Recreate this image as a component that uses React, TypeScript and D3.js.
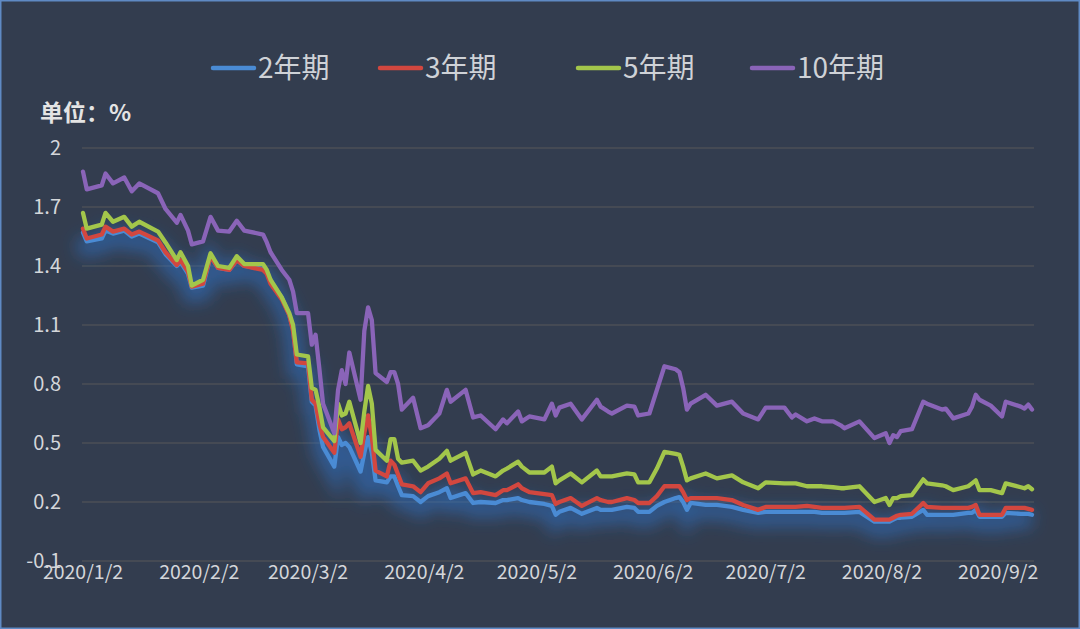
import React from "react";
import * as d3 from "d3";

// dates (2020, MM-DD) at the points
const dates = [
  "01-02","01-03","01-07","01-08","01-10","01-13","01-15","01-17","01-22","01-24",
  "01-27","01-28","01-30","01-31","02-03","02-05","02-07","02-10","02-12","02-14",
  "02-19","02-20","02-21","02-24","02-26","02-27","02-28","03-02","03-03","03-04",
  "03-05","03-06","03-09","03-10","03-11","03-12","03-13","03-16","03-17","03-18",
  "03-19","03-20","03-23","03-24","03-25","03-26","03-27","03-30","04-01","04-03",
  "04-06","04-08","04-09","04-13","04-15","04-17","04-21","04-23","04-24","04-27",
  "04-28","04-30","05-04","05-06","05-07","05-08","05-11","05-14","05-18","05-19",
  "05-21","05-22","05-26","05-28","05-29","06-01","06-03","06-05","06-08","06-09",
  "06-10","06-11","06-12","06-16","06-19","06-23","06-26","06-30","07-02","07-07",
  "07-09","07-10","07-13","07-15","07-17","07-20","07-22","07-23","07-27","07-31",
  "08-03","08-04","08-05","08-06","08-07","08-10","08-13","08-14","08-18","08-19",
  "08-21","08-25","08-26","08-27","08-28","08-31","09-03","09-04","09-08","09-09",
  "09-10","09-11",
];

const y2 = [
  1.57,1.525,1.54,1.58,1.565,1.58,1.55,1.565,1.52,1.46,
  1.40,1.42,1.36,1.29,1.30,1.45,1.39,1.38,1.43,1.40,
  1.385,1.37,1.32,1.24,1.15,1.08,0.90,0.89,0.71,0.69,
  0.57,0.48,0.38,0.53,0.49,0.50,0.48,0.355,0.45,0.53,
  0.45,0.31,0.30,0.33,0.33,0.28,0.235,0.23,0.20,0.23,
  0.25,0.27,0.22,0.245,0.195,0.20,0.195,0.21,0.21,0.22,
  0.21,0.20,0.19,0.18,0.135,0.15,0.17,0.14,0.17,0.16,
  0.16,0.16,0.175,0.17,0.15,0.15,0.18,0.20,0.22,0.225,
  0.20,0.16,0.195,0.185,0.185,0.175,0.16,0.145,0.15,0.15,
  0.15,0.15,0.15,0.15,0.145,0.145,0.145,0.145,0.15,0.10,
  0.10,0.10,0.11,0.12,0.12,0.125,0.16,0.135,0.135,0.135,
  0.135,0.145,0.145,0.16,0.125,0.125,0.125,0.145,0.14,0.14,
  0.14,0.135,
];

const y3 = [
  1.59,1.54,1.56,1.60,1.575,1.59,1.56,1.575,1.53,1.47,
  1.405,1.43,1.37,1.295,1.31,1.45,1.39,1.38,1.43,1.40,
  1.38,1.36,1.31,1.23,1.15,1.07,0.91,0.905,0.72,0.70,
  0.60,0.53,0.45,0.62,0.57,0.58,0.60,0.43,0.55,0.64,
  0.53,0.36,0.33,0.41,0.39,0.34,0.29,0.28,0.25,0.295,
  0.32,0.345,0.295,0.32,0.245,0.25,0.235,0.26,0.26,0.29,
  0.27,0.25,0.24,0.235,0.19,0.20,0.22,0.18,0.22,0.21,
  0.20,0.20,0.22,0.21,0.195,0.195,0.23,0.28,0.28,0.28,
  0.25,0.21,0.22,0.22,0.22,0.21,0.185,0.16,0.175,0.175,
  0.175,0.175,0.18,0.175,0.17,0.17,0.17,0.17,0.175,0.11,
  0.11,0.11,0.12,0.13,0.135,0.14,0.195,0.175,0.17,0.17,
  0.17,0.17,0.175,0.185,0.135,0.135,0.135,0.17,0.17,0.17,
  0.165,0.16,
];

const y5 = [
  1.67,1.59,1.61,1.67,1.625,1.65,1.60,1.625,1.575,1.52,
  1.43,1.47,1.40,1.30,1.33,1.465,1.40,1.39,1.45,1.41,
  1.41,1.38,1.33,1.24,1.16,1.10,0.95,0.94,0.78,0.77,
  0.685,0.58,0.51,0.70,0.64,0.65,0.71,0.50,0.66,0.79,
  0.70,0.465,0.41,0.52,0.52,0.42,0.40,0.41,0.36,0.38,
  0.42,0.46,0.41,0.45,0.34,0.36,0.33,0.36,0.37,0.405,
  0.38,0.35,0.35,0.38,0.295,0.31,0.345,0.30,0.36,0.33,
  0.33,0.33,0.345,0.34,0.30,0.30,0.37,0.455,0.445,0.44,
  0.38,0.31,0.32,0.345,0.32,0.335,0.30,0.27,0.30,0.295,
  0.295,0.295,0.28,0.28,0.28,0.275,0.27,0.27,0.28,0.20,
  0.22,0.185,0.22,0.22,0.23,0.235,0.315,0.295,0.285,0.28,
  0.26,0.28,0.295,0.31,0.26,0.26,0.245,0.295,0.275,0.27,
  0.28,0.265,
];

const y10 = [
  1.88,1.79,1.81,1.87,1.82,1.85,1.78,1.82,1.77,1.69,
  1.62,1.66,1.58,1.51,1.525,1.65,1.58,1.575,1.63,1.58,
  1.56,1.52,1.47,1.38,1.33,1.27,1.16,1.16,1.00,1.05,
  0.88,0.70,0.55,0.77,0.87,0.80,0.96,0.72,1.07,1.19,
  1.125,0.855,0.81,0.86,0.86,0.80,0.67,0.73,0.575,0.59,
  0.65,0.77,0.71,0.77,0.63,0.64,0.57,0.62,0.60,0.66,
  0.61,0.635,0.62,0.70,0.64,0.68,0.70,0.62,0.72,0.685,
  0.66,0.65,0.69,0.685,0.64,0.65,0.77,0.89,0.875,0.86,
  0.78,0.67,0.70,0.745,0.69,0.71,0.65,0.62,0.68,0.68,
  0.63,0.645,0.61,0.625,0.61,0.61,0.59,0.575,0.61,0.525,
  0.55,0.50,0.54,0.53,0.56,0.57,0.71,0.70,0.67,0.675,
  0.625,0.65,0.685,0.745,0.72,0.69,0.635,0.71,0.685,0.675,
  0.695,0.67,
];

const seriesNames = ["2年期", "3年期", "5年期", "10年期"];
const seriesColors = ["#4a8bd4", "#d2473f", "#a3c64b", "#8a64b8"];
const seriesValues = [y2, y3, y5, y10];

const yTicks = [-0.1, 0.2, 0.5, 0.8, 1.1, 1.4, 1.7, 2];
const yTickLabels = ["-0.1", "0.2", "0.5", "0.8", "1.1", "1.4", "1.7", "2"];
const xTickDates = ["2020-01-02","2020-02-02","2020-03-02","2020-04-02","2020-05-02","2020-06-02","2020-07-02","2020-08-02","2020-09-02"];

const W = 1080;
const H = 629;
const FONT = "'Noto Sans CJK SC', 'Noto Sans', sans-serif";

export default function App() {
  const parse = d3.timeParse("%Y-%m-%d");
  const pts = dates.map((d) => parse(`2020-${d}`) as Date);

  const x = d3.scaleTime()
    .domain([pts[0], pts[pts.length - 1]])
    .range([83, 1032]);
  const y = d3.scaleLinear().domain([-0.1, 2]).range([561, 148]);

  const fmt = d3.timeFormat("%Y/%-m/%-d");

  const lineGen = d3.line<number>()
    .x((_, i) => x(pts[i]))
    .y((v) => y(v));

  const legendX = [213, 380, 578, 752];

  return (
    <div style={{ position: "absolute", left: 0, top: 0 }}>
      <svg width={W} height={H} style={{ display: "block" }}>
        <defs>
          <filter id="glow" x="-10%" y="-30%" width="120%" height="160%">
            <feGaussianBlur stdDeviation="8" />
          </filter>
        </defs>
        <rect x={0} y={0} width={W} height={H} fill="#333d4f" />
        <rect x={0.75} y={0.75} width={W - 1.5} height={H - 1.5} fill="none" stroke="#5f8ac4" strokeWidth={1.5} />

        {/* legend */}
        {seriesNames.map((name, i) => (
          <g key={name}>
            <line x1={legendX[i]} x2={legendX[i] + 41} y1={68} y2={68}
              stroke={seriesColors[i]} strokeWidth={4.5} strokeLinecap="round" />
            <text x={legendX[i] + 45} y={68} dy="0.35em" fill="#cfd2d7"
              fontSize={28} fontFamily={FONT}>{name}</text>
          </g>
        ))}

        <text x={40} y={113} dy="0.35em" fill="#e4e4e4" fontSize={23} fontWeight="bold" fontFamily={FONT}>单位：%</text>

        {/* gridlines */}
        {yTicks.map((t) => (
          <line key={t} x1={82} x2={1034} y1={y(t)} y2={y(t)} stroke="#58585a" strokeWidth={1.2} />
        ))}

        {/* y tick labels */}
        {yTicks.map((t, i) => (
          <text key={t} x={61} y={y(t)} dy="0.35em" textAnchor="end" fill="#d4d6da"
            fontSize={20} fontFamily={FONT}>{yTickLabels[i]}</text>
        ))}

        {/* glow under the curves */}
        <path d={lineGen(y2) || ""} fill="none" stroke="#2f73c8" strokeOpacity={0.55}
          strokeWidth={18} transform="translate(0,6)" filter="url(#glow)" />

        {/* series */}
        {seriesValues.map((vals, i) => (
          <path key={seriesNames[i]} d={lineGen(vals) || ""} fill="none"
            stroke={seriesColors[i]} strokeWidth={4.3} strokeLinejoin="round" strokeLinecap="round" />
        ))}

        {/* x tick labels */}
        {xTickDates.map((d) => {
          const dt = parse(d) as Date;
          return (
            <text key={d} x={x(dt)} y={572} dy="0.35em" textAnchor="middle" fill="#d4d6da"
              fontSize={19.5} fontFamily={FONT}>{fmt(dt)}</text>
          );
        })}
      </svg>
    </div>
  );
}
